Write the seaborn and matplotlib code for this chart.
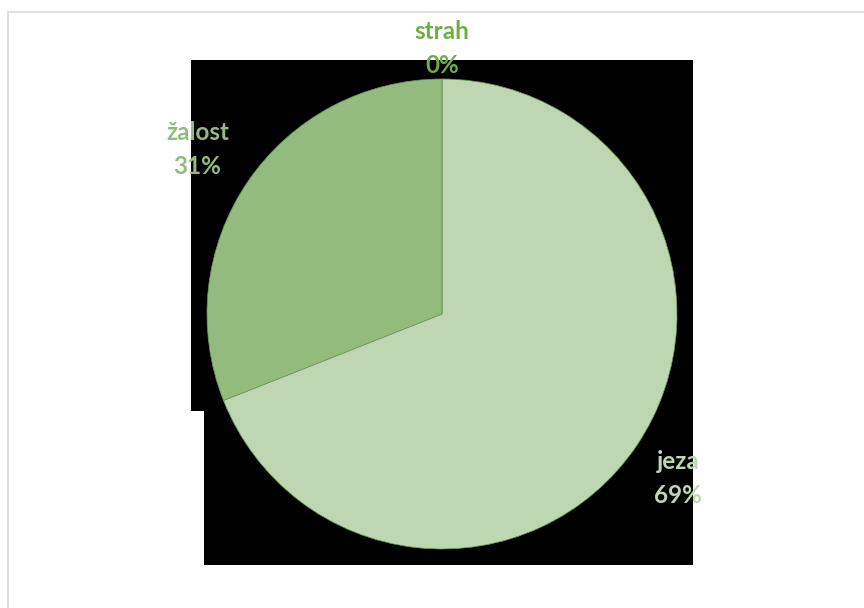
import matplotlib
matplotlib.use("Agg")
import matplotlib.pyplot as plt
import seaborn as sns
from matplotlib.patches import Polygon, Rectangle

# emotion shares (percent)
categories = ["jeza", "žalost", "strah"]
values = [69, 31, 0]
slice_colors = ["#BED6B1", "#93BB7D", "#70AD47"]
label_colors = ["#BED6B1", "#93BB7D", "#70AD47"]
label_pos = [(1.005, -0.70), (-1.04, 0.70), (0.0, 1.13)]

sns.set_theme(style="white")
plt.rcParams["font.family"] = ["Lato", "DejaVu Sans"]

W, H = 864, 608
fig = plt.figure(figsize=(W / 100, H / 100), dpi=100)
fig.patch.set_facecolor("white")

# chart frame
fig.patches.append(Rectangle((7.5 / W, -0.1), 2, (H - 11.5) / H + 0.1, transform=fig.transFigure,
                             fill=False, edgecolor="#D9D9D9", linewidth=1.2, zorder=0))

# black backdrop behind the pie
pts = [(191, 60), (693, 60), (693, 565), (204, 565), (204, 411), (191, 411)]
fig.patches.append(Polygon([(x / W, 1 - y / H) for x, y in pts], closed=True,
                           transform=fig.transFigure, facecolor="black", edgecolor="none", zorder=0.5))

cx, cy, r = 442, 314, 235
ax = fig.add_axes([(cx - r) / W, 1 - (cy + r) / H, 2 * r / W, 2 * r / H])
ax.set_zorder(2)
ax.set_facecolor("none")
ax.pie(values, colors=slice_colors, startangle=90, counterclock=False, radius=1,
       wedgeprops=dict(edgecolor="#6E9A55", linewidth=0.5))
ax.set_xlim(-1, 1)
ax.set_ylim(-1, 1)
ax.set_aspect("equal")
ax.axis("off")

total = sum(values)
for cat, v, col, (x, y) in zip(categories, values, label_colors, label_pos):
    ax.text(x, y, f"{cat}\n{round(100 * v / total)}%", ha="center", va="center",
            color=col, fontsize=17.5, fontweight="bold", linespacing=1.55, clip_on=False)

fig.savefig("out.png", dpi=100, facecolor="white")
